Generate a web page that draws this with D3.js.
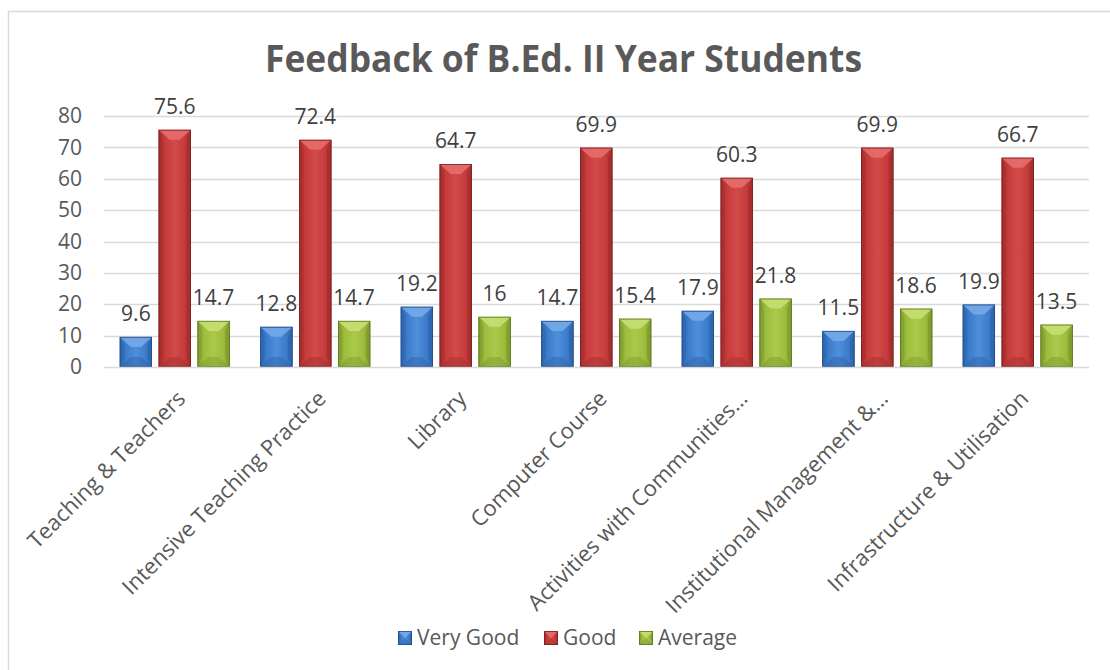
<!DOCTYPE html>
<html>
<head>
<meta charset="utf-8">
<script src="https://cdn.jsdelivr.net/npm/d3@7"></script>
<style>
  html, body { margin: 0; padding: 0; background: #ffffff; }
  svg { display: block; font-family: "Open Sans", "DejaVu Sans", sans-serif; }
</style>
</head>
<body>
<svg id="chart" width="1110" height="670"></svg>
<script>
const titleText = "Feedback of B.Ed. II Year Students";
const categories = [
  "Teaching & Teachers",
  "Intensive Teaching Practice",
  "Library",
  "Computer Course",
  "Activities with Communities\u2026",
  "Institutional Management &\u2026",
  "Infrastructure & Utilisation"
];
const seriesNames = ["Very Good", "Good", "Average"];
const veryGood = [9.6, 12.8, 19.2, 14.7, 17.9, 11.5, 19.9];
const good     = [75.6, 72.4, 64.7, 69.9, 60.3, 69.9, 66.7];
const average  = [14.7, 14.7, 16, 15.4, 21.8, 18.6, 13.5];
const yTicks = [0, 10, 20, 30, 40, 50, 60, 70, 80];

const seriesValues = [veryGood, good, average];
const palette = {
  "Very Good": {face: "#3b7ccc", light: "#75aae8", mid: "#4f8ed9", side: "#2f65ad", bottom: "#2e62a6", edge: "#224c86"},
  "Good":      {face: "#c73b3b", light: "#e46e6c", mid: "#d24a49", side: "#a42e2e", bottom: "#a12e2e", edge: "#7a2020"},
  "Average":   {face: "#9cbd3d", light: "#c6df72", mid: "#abc94c", side: "#7f9c2d", bottom: "#7d9a2c", edge: "#5d7520"}
};

const svg = d3.select("#chart");
svg.append("rect").attr("width", 1110).attr("height", 670).attr("fill", "#ffffff");

// frame
svg.append("path")
  .attr("d", "M8.5,670 L8.5,11.5 L1110,11.5")
  .attr("fill", "none").attr("stroke", "#d9d9d9").attr("stroke-width", 1.5);

const x0 = d3.scaleBand().domain(categories).range([104.5, 1088]).paddingInner(0.217).paddingOuter(0.1085);
const x1 = d3.scaleBand().domain(seriesNames).range([0, x0.bandwidth()]).paddingInner(0.17).paddingOuter(0);
const y = d3.scaleLinear().domain([0, 80]).range([367, 116]);

// title
svg.append("text")
  .attr("x", 563.5).attr("y", 72)
  .attr("text-anchor", "middle")
  .attr("font-size", 37).attr("font-weight", 700)
  .attr("fill", "#595959")
  .attr("textLength", 597).attr("lengthAdjust", "spacingAndGlyphs")
  .text(titleText);

// gridlines
svg.append("g").selectAll("line").data(yTicks.filter(d => d > 0)).join("line")
  .attr("x1", 104).attr("x2", 1089)
  .attr("y1", d => Math.round(y(d)) + 0.5).attr("y2", d => Math.round(y(d)) + 0.5)
  .attr("stroke", "#d9d9d9").attr("stroke-width", 1.3);

// y axis labels
const yAxis = d3.axisLeft(y).tickValues(yTicks).tickSize(0).tickPadding(0);
const yg = svg.append("g").attr("transform", "translate(82,0)").call(yAxis);
yg.select(".domain").remove();
yg.selectAll("text").attr("font-size", 21).attr("fill", "#595959")
  .attr("font-family", "'Open Sans', sans-serif");

// defs gradients
const defs = svg.append("defs");
seriesNames.forEach((s, i) => {
  const c = palette[s];
  const g = defs.append("linearGradient").attr("id", "face" + i)
    .attr("x1", "0").attr("x2", "1").attr("y1", "0").attr("y2", "0");
  g.append("stop").attr("offset", "0").attr("stop-color", c.side);
  g.append("stop").attr("offset", "0.2").attr("stop-color", c.face);
  g.append("stop").attr("offset", "0.5").attr("stop-color", c.mid);
  g.append("stop").attr("offset", "0.8").attr("stop-color", c.face);
  g.append("stop").attr("offset", "1").attr("stop-color", c.side);
});

function drawBevelBar(g, x, yTop, w, h, si) {
  const c = palette[seriesNames[si]];
  const bx = Math.min(11, w / 2);
  const by = Math.min(10, h / 2);
  g.append("rect").attr("x", x).attr("y", yTop).attr("width", w).attr("height", h)
    .attr("fill", "url(#face" + si + ")");
  // top bevel
  g.append("polygon").attr("points", [[x, yTop], [x + w, yTop], [x + w - bx, yTop + by], [x + bx, yTop + by]].join(" "))
    .attr("fill", c.light).attr("opacity", 0.9);
  // bottom bevel
  g.append("polygon").attr("points", [[x, yTop + h], [x + w, yTop + h], [x + w - bx, yTop + h - by], [x + bx, yTop + h - by]].join(" "))
    .attr("fill", c.bottom).attr("opacity", 0.45);
  // left bevel
  g.append("polygon").attr("points", [[x, yTop], [x + bx * 0.4, yTop + by], [x + bx * 0.4, yTop + h - by], [x, yTop + h]].join(" "))
    .attr("fill", c.side).attr("opacity", 0.55);
  // right bevel
  g.append("polygon").attr("points", [[x + w, yTop], [x + w - bx * 0.4, yTop + by], [x + w - bx * 0.4, yTop + h - by], [x + w, yTop + h]].join(" "))
    .attr("fill", c.side).attr("opacity", 0.8);
  g.append("rect").attr("x", x + 0.4).attr("y", yTop + 0.4).attr("width", w - 0.8).attr("height", h - 0.8)
    .attr("fill", "none").attr("stroke", c.edge).attr("stroke-width", 0.8);
}

// bars
const groups = svg.append("g").selectAll("g").data(categories).join("g")
  .attr("transform", d => `translate(${x0(d)},0)`);

groups.each(function(cat, ci) {
  const g = d3.select(this);
  seriesNames.forEach((s, si) => {
    const v = seriesValues[si][ci];
    const bx = x1(s), bw = x1.bandwidth();
    const yt = y(v), h = y(0) - y(v);
    drawBevelBar(g.append("g"), bx, yt, bw, h, si);
    g.append("text")
      .attr("x", bx + bw / 2).attr("y", yt - 16)
      .attr("text-anchor", "middle")
      .attr("font-size", 21).attr("fill", "#404040")
      .text(v);
  });
});

// baseline
svg.append("line").attr("x1", 104).attr("x2", 1089)
  .attr("y1", y(0) + 0.5).attr("y2", y(0) + 0.5)
  .attr("stroke", "#d9d9d9").attr("stroke-width", 1.5);

// x labels
svg.append("g").selectAll("text").data(categories).join("text")
  .attr("transform", d => `translate(${x0(d) + x0.bandwidth() / 2 + 12},400) rotate(-45)`)
  .attr("text-anchor", "end")
  .attr("font-size", 22).attr("fill", "#595959")
  .text(d => d);

// legend
const legendX = [398, 544, 639];
const lg = svg.append("g");
seriesNames.forEach((s, i) => {
  const g = lg.append("g");
  drawBevelBar(g, legendX[i], 631, 14, 14, i);
  g.append("text").attr("x", legendX[i] + 19).attr("y", 645)
    .attr("font-size", 21).attr("fill", "#595959").text(s);
});
</script>
</body>
</html>
